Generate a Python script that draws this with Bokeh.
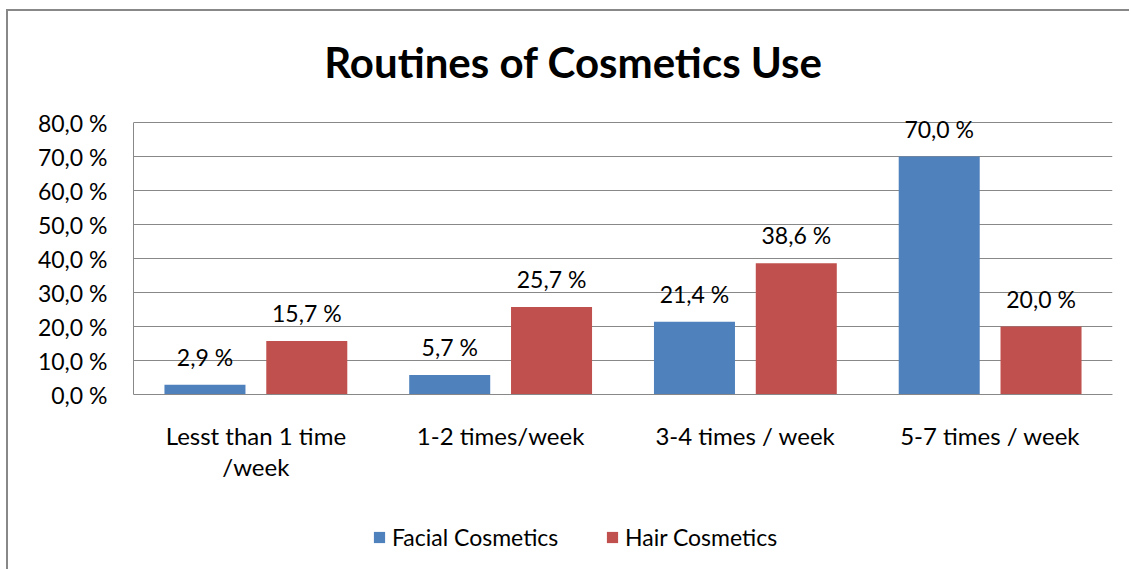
from bokeh.plotting import figure
from bokeh.models import (ColumnDataSource, FactorRange, Range1d, FixedTicker,
                          LabelSet, Label, Legend, LegendItem)
from bokeh.transform import dodge
from bokeh.core.properties import value
from bokeh.embed import file_html
from bokeh.resources import INLINE

categories = ["Lesst than 1 time\n/week", "1-2 times/week", "3-4 times / week", "5-7 times / week"]
facial = [2.9, 5.7, 21.4, 70.0]
hair = [15.7, 25.7, 38.6, 20.0]
y_ticks = [0, 10, 20, 30, 40, 50, 60, 70, 80]
series_names = ["Facial Cosmetics", "Hair Cosmetics"]

FONT = "Lato"
BLUE = "#4F81BD"
RED = "#C0504D"
GRID = "#888888"

W, H = 1123, 560          # canvas size
TOP_PX, ZERO_PX = 111, 383  # canvas rows of the 80 % and 0 % lines
PX_PER = (ZERO_PX - TOP_PX) / 80.0


def pct(v):
    return f"{v:.1f}".replace(".", ",") + " %"


src = ColumnDataSource(dict(
    cat=categories,
    facial=facial,
    hair=hair,
    facial_lbl=[pct(v) for v in facial],
    hair_lbl=[pct(v) for v in hair],
))

# the plot frame spans the full canvas height so that title and legend can live
# inside it; the value axis is bounded to 0-80 %
p = figure(width=W, height=H, output_backend="svg", toolbar_location=None,
           x_range=FactorRange(*categories, range_padding=0),
           y_range=Range1d(-(H - ZERO_PX) / PX_PER, 80 + TOP_PX / PX_PER),
           min_border_left=125, min_border_right=19,
           min_border_top=0, min_border_bottom=0)
p.margin = (9, 0, 0, 6)
p.styles = {"border-left": "2px solid #888888", "border-top": "2px solid #888888"}
p.background_fill_color = "white"
p.border_fill_color = "white"
p.outline_line_color = None

bar_w = 0.331
off = 0.208
rf = p.vbar(x=dodge("cat", -off, range=p.x_range), top="facial", width=bar_w,
            source=src, fill_color=BLUE, line_color=None)
rh = p.vbar(x=dodge("cat", off, range=p.x_range), top="hair", width=bar_w,
            source=src, fill_color=RED, line_color=None)

for col, lbl, d in (("facial", "facial_lbl", -off), ("hair", "hair_lbl", off)):
    p.add_layout(LabelSet(x=dodge("cat", d, range=p.x_range), y=col, text=lbl,
                          source=src, text_align="center", text_baseline="middle",
                          y_offset=28, text_font=value(FONT), text_font_size="23px",
                          text_color="black"))

# value axis
p.yaxis.ticker = FixedTicker(ticks=y_ticks)
p.yaxis.bounds = (0, 80)
p.yaxis.major_label_overrides = {t: pct(t) for t in y_ticks}
p.yaxis.major_tick_out = 0
p.yaxis.major_tick_in = 0
p.yaxis.minor_tick_out = 0
p.yaxis.minor_tick_in = 0
p.yaxis.axis_line_color = GRID
p.yaxis.major_label_standoff = 26
p.yaxis.major_label_text_font = FONT
p.yaxis.major_label_text_font_size = "23px"
p.yaxis.major_label_text_color = "black"

# category axis pinned at 0 %
p.xaxis.fixed_location = 0
p.xaxis.major_tick_out = 0
p.xaxis.major_tick_in = 0
p.xaxis.axis_line_color = GRID
p.xaxis.major_label_standoff = 26
p.xaxis.major_label_text_font = FONT
p.xaxis.major_label_text_font_size = "24px"
p.xaxis.major_label_text_color = "black"
p.xaxis.major_label_text_line_height = 1.1

p.xgrid.grid_line_color = None
p.ygrid.grid_line_color = GRID
p.ygrid.grid_line_width = 1

# legend under the category labels
legend = Legend(items=[LegendItem(label=series_names[0], renderers=[rf]),
                       LegendItem(label=series_names[1], renderers=[rh])],
                location=(239, 20), orientation="horizontal",
                border_line_color=None, background_fill_alpha=0,
                padding=0, margin=0, spacing=13, label_width=200,
                glyph_width=14, glyph_height=14, label_standoff=6,
                label_text_font=FONT, label_text_font_size="23px",
                label_text_color="black")
p.add_layout(legend, "center")

# chart title
p.add_layout(Label(x=440, y=510, x_units="screen", y_units="screen",
                   text="Routines of Cosmetics Use", text_align="center",
                   text_baseline="middle", text_font=FONT,
                   text_font_size="42px", text_font_style="bold",
                   text_color="black"))

open("out.html", "w").write(file_html(p, INLINE))
